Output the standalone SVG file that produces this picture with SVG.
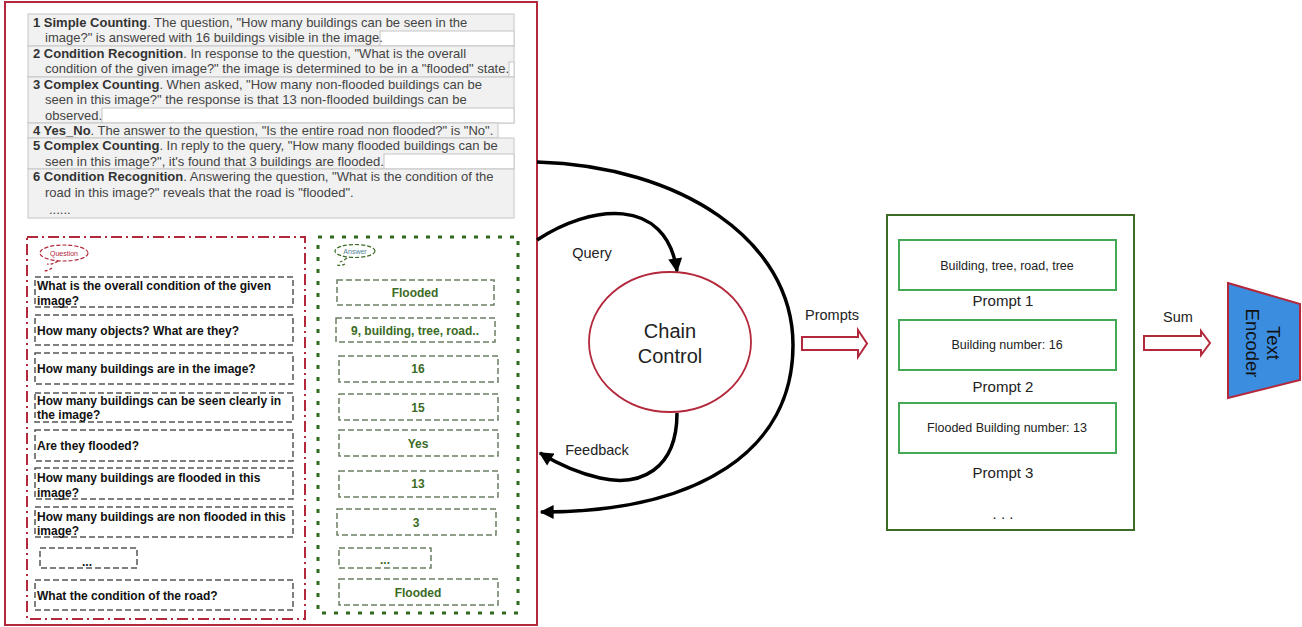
<svg xmlns="http://www.w3.org/2000/svg" width="1302" height="627" viewBox="0 0 1302 627">
<style>
text{font-family:"Liberation Sans",Arial,sans-serif}
.ib{fill:#f1f1f1;stroke:#c6c6c6;stroke-width:1}
.wb{fill:#fff;stroke:#c6c6c6;stroke-width:1}
.tt{font-size:13px;fill:#444}
.tt tspan.b{font-weight:bold;fill:#333}
.qb{fill:#fff;stroke:#555;stroke-width:1.5;stroke-dasharray:6 3}
.qt{font-size:12px;font-weight:bold;fill:#111}
.ab{fill:#fff;stroke:#6b7f63;stroke-width:1.5;stroke-dasharray:6 3}
.at{font-size:12px;font-weight:bold;fill:#3b6b25;text-anchor:middle}
.lbl{font-size:14.5px;fill:#222}
.pb{fill:#fff;stroke:#45a855;stroke-width:2}
.pt{font-size:12.5px;fill:#222;text-anchor:middle}
.pl{font-size:15px;fill:#222;text-anchor:middle}
.conn{fill:none;stroke:#000;stroke-width:3.5}
.hollow{fill:#fff;stroke:#b3283b;stroke-width:2}
</style>
<defs>
<marker id="ah" viewBox="0 0 10 10" refX="9" refY="5" markerWidth="4.2" markerHeight="4" orient="auto" markerUnits="strokeWidth">
<path d="M0,0 L10,5 L0,10 Z" fill="#000"/>
</marker>
</defs>
<rect width="1302" height="627" fill="#fff"/>

<g id="left-panel">
<rect x="5" y="2" width="532" height="623" fill="#fff" stroke="#b3283b" stroke-width="2"/>
</g>

<g id="reasoning-text">
<rect class="ib" x="28" y="14" width="486" height="32"/>
<rect class="wb" x="380" y="31" width="134" height="15"/>
<rect class="ib" x="28" y="46" width="486" height="31"/>
<rect class="wb" x="509" y="62" width="5" height="15"/>
<rect class="ib" x="28" y="77" width="486" height="46"/>
<rect class="wb" x="102" y="108" width="412" height="15"/>
<rect class="ib" x="28" y="123" width="470" height="15"/>
<rect class="ib" x="28" y="138" width="486" height="31"/>
<rect class="wb" x="384" y="154" width="130" height="15"/>
<rect class="ib" x="28" y="169" width="486" height="49"/>
<text class="tt" x="33" y="26.5"><tspan class="b">1 Simple Counting</tspan>. The question, "How many buildings can be seen in the</text>
<text class="tt" x="45" y="42">image?" is answered with 16 buildings visible in the image.</text>
<text class="tt" x="33" y="57.5"><tspan class="b">2 Condition Recognition</tspan>. In response to the question, "What is the overall</text>
<text class="tt" x="45" y="73">condition of the given image?" the image is determined to be in a "flooded" state.</text>
<text class="tt" x="33" y="88.5"><tspan class="b">3 Complex Counting</tspan>. When asked, "How many non-flooded buildings can be</text>
<text class="tt" x="45" y="104">seen in this image?" the response is that 13 non-flooded buildings can be</text>
<text class="tt" x="45" y="119.5">observed.</text>
<text class="tt" x="33" y="134.5"><tspan class="b">4 Yes_No</tspan>. The answer to the question, "Is the entire road non flooded?" is "No".</text>
<text class="tt" x="33" y="150"><tspan class="b">5 Complex Counting</tspan>. In reply to the query, "How many flooded buildings can be</text>
<text class="tt" x="45" y="165.5">seen in this image?", it's found that 3 buildings are flooded.</text>
<text class="tt" x="33" y="181"><tspan class="b">6 Condition Recognition</tspan>. Answering the question, "What is the condition of the</text>
<text class="tt" x="45" y="196.5">road in this image?" reveals that the road is "flooded".</text>
<text class="tt" x="49" y="214">......</text>
</g>

<g id="question-panel">
<rect x="27" y="237" width="278" height="382" fill="none" stroke="#b3283b" stroke-width="2" stroke-dasharray="11 4 2 4"/>
<ellipse cx="64" cy="253" rx="24" ry="8" fill="none" stroke="#b3283b" stroke-width="1.2" stroke-dasharray="4 2"/>
<path d="M58,261 Q52,265 47,264 M52,268 Q48,271 43,271" fill="none" stroke="#b3283b" stroke-width="1.2" stroke-dasharray="3 2"/>
<text x="64" y="255.5" font-size="7" fill="#b3283b" text-anchor="middle">Question</text>
</g>

<g id="q1"><rect class="qb" x="35" y="277" width="258" height="30"/><text class="qt" x="37" y="290">What is the overall condition of the given</text><text class="qt" x="37" y="304.5">image?</text></g>
<g id="q2"><rect class="qb" x="35" y="315" width="258" height="30"/><text class="qt" x="37" y="334.5">How many objects? What are they?</text></g>
<g id="q3"><rect class="qb" x="35" y="353" width="258" height="31"/><text class="qt" x="37" y="373">How many buildings are in the image?</text></g>
<g id="q4"><rect class="qb" x="35" y="393" width="258" height="29"/><text class="qt" x="37" y="405">How many buildings can be seen clearly in</text><text class="qt" x="37" y="419">the image?</text></g>
<g id="q5"><rect class="qb" x="35" y="430" width="258" height="31"/><text class="qt" x="37" y="450">Are they flooded?</text></g>
<g id="q6"><rect class="qb" x="35" y="468" width="258" height="31"/><text class="qt" x="37" y="482">How many buildings are flooded in this</text><text class="qt" x="37" y="496.5">image?</text></g>
<g id="q7"><rect class="qb" x="35" y="507" width="258" height="30"/><text class="qt" x="37" y="520.5">How many buildings are non flooded in this</text><text class="qt" x="37" y="535">image?</text></g>
<g id="q8"><rect class="qb" x="40" y="548" width="97" height="20"/><text class="qt" x="87" y="566" text-anchor="middle">...</text></g>
<g id="q9"><rect class="qb" x="35" y="580" width="258" height="30"/><text class="qt" x="37" y="599.5">What the condition of the road?</text></g>

<g id="answer-panel">
<rect x="318" y="237" width="200" height="376" fill="none" stroke="#2f6b1f" stroke-width="3" stroke-dasharray="4 8"/>
<ellipse cx="355" cy="251" rx="20" ry="6.5" fill="none" stroke="#3b6b25" stroke-width="1.2" stroke-dasharray="4 2"/>
<path d="M347,258 Q343,261 340,262 M345,264 Q341,266 337,265" fill="none" stroke="#3b6b25" stroke-width="1.2" stroke-dasharray="3 2"/>
<text x="355" y="253.5" font-size="7" fill="#4f8294" text-anchor="middle">Answer</text>
</g>

<g id="a1"><rect class="ab" x="337" y="280" width="157" height="25"/><text class="at" x="415" y="297">Flooded</text></g>
<g id="a2"><rect class="ab" x="336" y="318" width="159" height="24"/><text class="at" x="415" y="334.5">9, building, tree, road..</text></g>
<g id="a3"><rect class="ab" x="339" y="356" width="159" height="26"/><text class="at" x="418" y="373">16</text></g>
<g id="a4"><rect class="ab" x="339" y="394" width="159" height="26"/><text class="at" x="418" y="411.5">15</text></g>
<g id="a5"><rect class="ab" x="339" y="430" width="159" height="26"/><text class="at" x="418" y="447.5">Yes</text></g>
<g id="a6"><rect class="ab" x="339" y="471" width="159" height="26"/><text class="at" x="418" y="488">13</text></g>
<g id="a7"><rect class="ab" x="337" y="509" width="159" height="26"/><text class="at" x="416" y="526.5">3</text></g>
<g id="a8"><rect class="ab" x="339" y="548" width="92" height="20"/><text class="at" x="385" y="564">...</text></g>
<g id="a9"><rect class="ab" x="339" y="579" width="159" height="26"/><text class="at" x="418" y="596.5">Flooded</text></g>

<g id="chain-control">
<ellipse cx="670" cy="342" rx="81" ry="70" fill="#fff" stroke="#b3283b" stroke-width="1.8"/>
<text x="670" y="338" font-size="20" fill="#222" text-anchor="middle">Chain</text>
<text x="670" y="363" font-size="20" fill="#222" text-anchor="middle">Control</text>
</g>

<g id="connectors">
<path class="conn" d="M537,162 C680,166 793,240 793,345 C793,450 700,512 541,512" marker-end="url(#ah)"/>
<path class="conn" d="M537,240 C590,205 666,195 677,271" marker-end="url(#ah)"/>
<path class="conn" d="M677,413 C677,470 640,487 600,478 C578,473 558,464 540,453" marker-end="url(#ah)"/>
<path class="hollow" d="M802,337 L858,337 L858,330 L867,343.5 L858,357 L858,350 L802,350 Z"/>
<path class="hollow" d="M1144,336 L1201,336 L1201,331 L1210,343 L1201,355 L1201,350 L1144,350 Z"/>
<text class="lbl" x="592" y="258" text-anchor="middle">Query</text>
<text class="lbl" x="597" y="455" text-anchor="middle">Feedback</text>
<text class="lbl" x="832" y="320" text-anchor="middle">Prompts</text>
<text class="lbl" x="1178" y="322" text-anchor="middle">Sum</text>
</g>

<g id="prompts">
<rect x="887" y="215" width="247" height="315" fill="#fff" stroke="#3d6b25" stroke-width="2"/>
<rect class="pb" x="899" y="240" width="217" height="50"/>
<text class="pt" x="1007" y="270">Building, tree, road, tree</text>
<text class="pl" x="1003" y="306">Prompt 1</text>
<rect class="pb" x="899" y="320" width="217" height="50"/>
<text class="pt" x="1007" y="349">Building number: 16</text>
<text class="pl" x="1003" y="392">Prompt 2</text>
<rect class="pb" x="899" y="403" width="217" height="50"/>
<text class="pt" x="1007" y="432">Flooded Building number: 13</text>
<text class="pl" x="1003" y="478">Prompt 3</text>
<text class="pl" x="1003" y="519">. . .</text>
</g>

<g id="text-encoder">
<polygon points="1228,283 1300,304 1300,380 1228,398" fill="#3b8de0" stroke="#b3283b" stroke-width="2"/>
<g transform="translate(1261,343) rotate(90)">
<text x="0" y="-6" font-size="18.5" fill="#111" text-anchor="middle">Text</text>
<text x="0" y="15" font-size="18.5" fill="#111" text-anchor="middle">Encoder</text>
</g>
</g>
</svg>
